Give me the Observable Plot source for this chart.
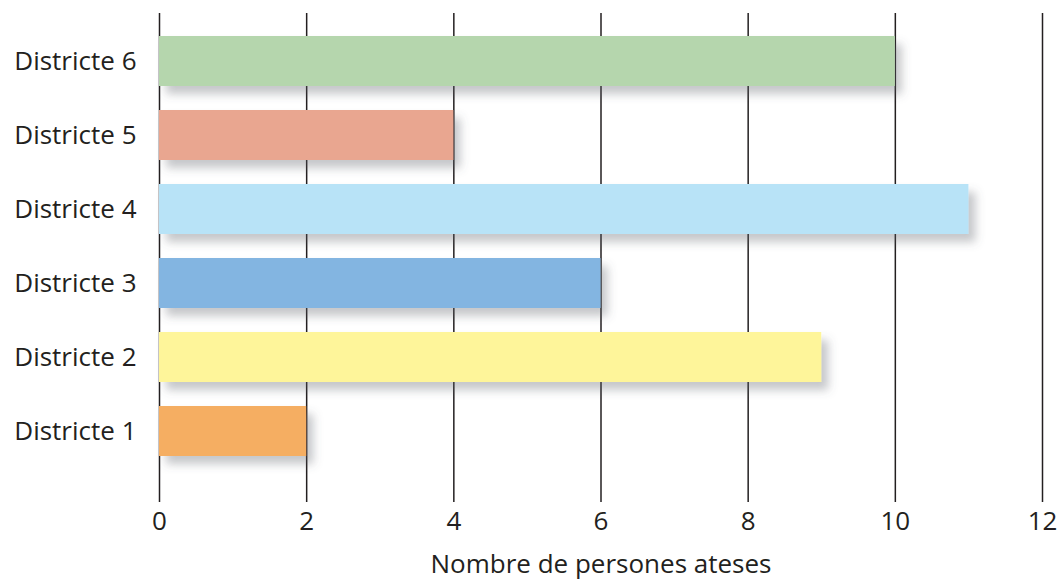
<!DOCTYPE html>
<html>
<head>
<meta charset="utf-8">
<script src="https://cdn.jsdelivr.net/npm/d3@7"></script>
<script src="https://cdn.jsdelivr.net/npm/@observablehq/plot@0.6"></script>
<style>
  html, body { margin: 0; padding: 0; background: #fff; }
  svg { display: block; }
</style>
</head>
<body>
<div id="chart"></div>
<script>
const districts = ["Districte 6", "Districte 5", "Districte 4", "Districte 3", "Districte 2", "Districte 1"];
const persons = [10, 4, 11, 6, 9, 2];
const colors = ["#b5d6ad", "#e9a690", "#b8e3f7", "#83b5e1", "#fef59a", "#f5ae62"];
const xTicks = [0, 2, 4, 6, 8, 10, 12];
const xTitle = "Nombre de persones ateses";

const data = districts.map((d, i) => ({district: d, value: persons[i], color: colors[i]}));

const ink = "#231f20";
const fs = 26;
const chart = Plot.plot({
  width: 1059,
  height: 581,
  marginLeft: 159,
  marginRight: 17,
  marginTop: 13,
  marginBottom: 101,
  style: {fontFamily: "'Open Sans', sans-serif", fontSize: fs + "px", color: ink, background: "#fff"},
  x: {domain: [0, 12], ticks: xTicks, tickSize: 22, tickPadding: 10, label: null, tickFormat: d => String(d)},
  y: {domain: districts, paddingInner: 0.318, paddingOuter: 0.28, tickSize: 0, tickPadding: 22, label: null},
  marks: [
    Plot.ruleX(xTicks, {stroke: ink, strokeWidth: 1.5, strokeOpacity: 1}),
    Plot.barX(data, {y: "district", x: "value", fill: d => d.color}),
    Plot.ruleY([0], {frameAnchor: "bottom", stroke: ink, strokeWidth: 1.5}),
    Plot.axisX({ticks: xTicks, tickSize: 22, tickPadding: 9, stroke: ink, fontSize: fs, tickFormat: d => String(d)}),
    Plot.axisY({tickSize: 0, tickPadding: 23, fontSize: fs}),
    Plot.text([xTitle], {frameAnchor: "bottom", dy: 92, fontSize: fs, fill: ink})
  ]
});

// Soft drop shadow behind bars
const svg = d3.select(chart);
const defs = svg.insert("defs", ":first-child");
const f = defs.append("filter").attr("id", "barShadow").attr("x", "-10%").attr("y", "-30%").attr("width", "130%").attr("height", "180%");
f.append("feDropShadow").attr("dx", 7).attr("dy", 8).attr("stdDeviation", 5).attr("flood-color", "#5a5f66").attr("flood-opacity", 0.35);
svg.selectAll("g[aria-label='bar']").attr("filter", "url(#barShadow)");
svg.selectAll("g[aria-label='x-axis tick'] path").attr("stroke-width", 1.5);

document.getElementById("chart").appendChild(chart);
</script>
</body>
</html>
